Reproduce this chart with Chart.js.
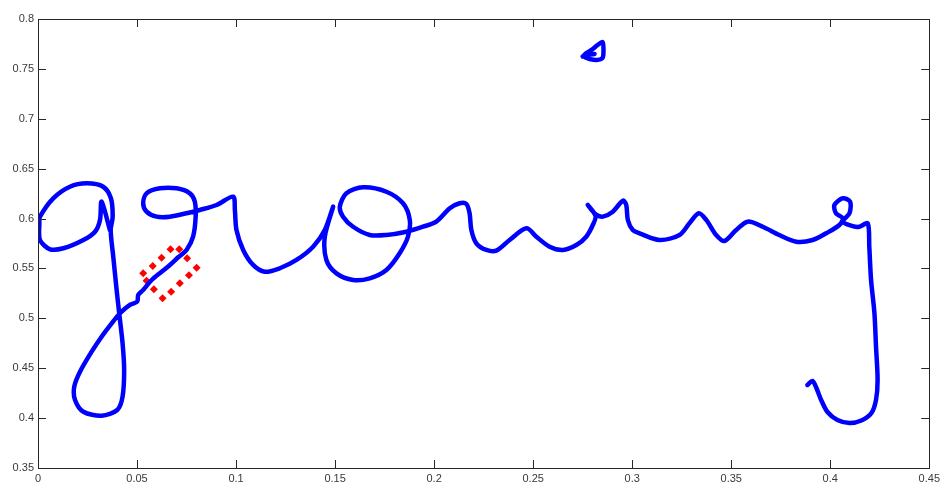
<!DOCTYPE html>
<html>
<head>
<meta charset="utf-8">
<script src="https://cdn.jsdelivr.net/npm/chart.js@4.4.1/dist/chart.umd.min.js"></script>
<style>
html,body{margin:0;padding:0;background:#fff;}
#wrap{width:944px;height:485px;}
</style>
</head>
<body>
<div id="wrap"><canvas id="c" width="944" height="485"></canvas></div>
<script>
// ---- data ----
const xTicks = [0, 0.05, 0.1, 0.15, 0.2, 0.25, 0.3, 0.35, 0.4, 0.45];
const yTicks = [0.35, 0.4, 0.45, 0.5, 0.55, 0.6, 0.65, 0.7, 0.75, 0.8];
const xTickLabels = ["0", "0.05", "0.1", "0.15", "0.2", "0.25", "0.3", "0.35", "0.4", "0.45"];
const yTickLabels = ["0.35", "0.4", "0.45", "0.5", "0.55", "0.6", "0.65", "0.7", "0.75", "0.8"];

// main pen stroke
const strokeX = [0.0363,0.0321,0.0313,0.0288,0.0229,0.0128,0.0061,0.0010,0.0007,0.0010,0.0077,0.0161,0.0246,0.0329,0.0368,0.0377,0.0367,0.0380,0.0397,0.0410,0.0427,0.0435,0.0427,0.0400,0.0321,0.0229,0.0187,0.0183,0.0212,0.0271,0.0321,0.0372,0.0414,0.0464,0.0501,0.0506,0.0531,0.0574,0.0624,0.0666,0.0708,0.0750,0.0783,0.0796,0.0792,0.0767,0.0700,0.0615,0.0548,0.0531,0.0548,0.0599,0.0666,0.0750,0.0817,0.0902,0.0985,0.0994,0.1002,0.1036,0.1086,0.1145,0.1221,0.1305,0.1389,0.1448,0.1490,0.1448,0.1456,0.1507,0.1591,0.1675,0.1759,0.1826,0.1868,0.1877,0.1843,0.1759,0.1641,0.1557,0.1524,0.1540,0.1591,0.1675,0.1759,0.1860,0.1944,0.2011,0.2079,0.2129,0.2163,0.2179,0.2188,0.2213,0.2264,0.2314,0.2381,0.2466,0.2516,0.2583,0.2650,0.2718,0.2768,0.2801,0.2815,0.2776,0.2795,0.2820,0.2852,0.2902,0.2953,0.2970,0.2978,0.3003,0.3037,0.3138,0.3239,0.3289,0.3336,0.3374,0.3424,0.3466,0.3525,0.3583,0.3659,0.3743,0.3828,0.3911,0.3979,0.4046,0.4063,0.4029,0.4021,0.4063,0.4100,0.4097,0.4063,0.4113,0.4147,0.4189,0.4197,0.4206,0.4223,0.4231,0.4239,0.4231,0.4208,0.4157,0.4097,0.4036,0.3986,0.3954,0.3930,0.3910,0.3885];
const strokeY = [0.5885,0.6169,0.5986,0.5868,0.5785,0.5702,0.5692,0.5785,0.5952,0.6019,0.6203,0.6319,0.6353,0.6319,0.6203,0.6019,0.5885,0.5618,0.5284,0.5051,0.4750,0.4482,0.4215,0.4081,0.4024,0.4064,0.4182,0.4315,0.4465,0.4666,0.4816,0.4950,0.5051,0.5134,0.5167,0.5234,0.5284,0.5384,0.5467,0.5535,0.5612,0.5685,0.5818,0.6019,0.6169,0.6253,0.6303,0.6303,0.6253,0.6153,0.6069,0.6019,0.6019,0.6053,0.6086,0.6136,0.6219,0.6086,0.5885,0.5685,0.5535,0.5467,0.5502,0.5585,0.5718,0.5885,0.6119,0.5818,0.5585,0.5451,0.5384,0.5401,0.5484,0.5652,0.5818,0.5986,0.6153,0.6269,0.6313,0.6253,0.6119,0.6019,0.5918,0.5835,0.5835,0.5868,0.5918,0.5969,0.6103,0.6153,0.6146,0.6053,0.5885,0.5752,0.5685,0.5678,0.5785,0.5902,0.5818,0.5718,0.5685,0.5735,0.5818,0.5935,0.6026,0.6136,0.6086,0.6036,0.6019,0.6069,0.6179,0.6136,0.5986,0.5885,0.5852,0.5785,0.5835,0.5952,0.6053,0.5986,0.5835,0.5775,0.5885,0.5969,0.5918,0.5835,0.5768,0.5785,0.5852,0.5935,0.6003,0.6053,0.6136,0.6203,0.6169,0.6053,0.5969,0.5925,0.5918,0.5952,0.5718,0.5384,0.5051,0.4716,0.4382,0.4182,0.4051,0.3976,0.3951,0.3981,0.4061,0.4182,0.4302,0.4372,0.4332];

// dot over the i
const dotX = [0.2750,0.2770,0.2795,0.2825,0.2850,0.2855,0.2850,0.2820,0.2785,0.2760,0.2780,0.2810];
const dotY = [0.7625,0.7660,0.7690,0.7739,0.7769,0.7689,0.7609,0.7589,0.7599,0.7619,0.7640,0.7650];

// red highlighted points
const boxX = [0.0531,0.0548,0.0585,0.0629,0.0672,0.0716,0.0762,0.0801,0.0753,0.0713,0.0669,0.0624,0.0579];
const boxY = [0.5451,0.5377,0.5291,0.5201,0.5267,0.5351,0.5431,0.5508,0.5602,0.5692,0.5692,0.5608,0.5525];

const toPts = (xs, ys) => xs.map((x, i) => ({x: x, y: ys[i]}));

const frameAndTicks = {
  id: 'frameAndTicks',
  afterDraw(chart) {
    const ctx = chart.ctx, a = chart.chartArea;
    const xs = chart.scales.x, ys = chart.scales.y;
    ctx.save();
    ctx.strokeStyle = '#262626';
    ctx.lineWidth = 1;
    ctx.strokeRect(Math.round(a.left) + 0.5, Math.round(a.top) + 0.5, Math.round(a.right - a.left), Math.round(a.bottom - a.top));
    const L = 8;
    ctx.beginPath();
    xTicks.forEach(v => {
      const p = Math.round(xs.getPixelForValue(v)) + 0.5;
      ctx.moveTo(p, a.bottom); ctx.lineTo(p, a.bottom - L);
      ctx.moveTo(p, a.top); ctx.lineTo(p, a.top + L);
    });
    yTicks.forEach(v => {
      const p = Math.round(ys.getPixelForValue(v)) + 0.5;
      ctx.moveTo(a.left, p); ctx.lineTo(a.left + L, p);
      ctx.moveTo(a.right, p); ctx.lineTo(a.right - L, p);
    });
    ctx.stroke();
    ctx.restore();
  }
};

new Chart(document.getElementById('c'), {
  type: 'scatter',
  data: {
    datasets: [
      {
        data: toPts(strokeX, strokeY),
        showLine: true,
        borderColor: '#0000ff',
        borderWidth: 4.5,
        pointRadius: 0,
        tension: 0.3,
        borderCapStyle: 'round',
        borderJoinStyle: 'round',
        fill: false
      },
      {
        data: toPts(dotX, dotY),
        showLine: true,
        borderColor: '#0000ff',
        borderWidth: 4.5,
        pointRadius: 0,
        tension: 0.3,
        borderCapStyle: 'round',
        borderJoinStyle: 'round',
        fill: false
      },
      {
        data: toPts(boxX, boxY),
        showLine: false,
        pointStyle: 'rectRot',
        pointRadius: 4,
        backgroundColor: '#ff0000',
        borderColor: '#ff0000',
        borderWidth: 0
      }
    ]
  },
  options: {
    responsive: false,
    animation: false,
    events: [],
    layout: { padding: { top: 19, right: 14, left: 0, bottom: 0 } },
    plugins: { legend: { display: false }, tooltip: { enabled: false } },
    scales: {
      x: {
        type: 'linear',
        min: 0, max: 0.45,
        afterBuildTicks: s => { s.ticks = xTicks.map(v => ({value: v})); },
        afterFit: s => { s.height = 17; },
        grid: { display: false, drawTicks: false },
        border: { display: false },
        ticks: {
          padding: 4,
          maxRotation: 0,
          autoSkip: false,
          color: '#3a3a3a',
          font: { family: 'Liberation Sans, Arial, sans-serif', size: 11 },
          callback: (v) => { const i = xTicks.findIndex(t => Math.abs(t - v) < 1e-9); return i >= 0 ? xTickLabels[i] : ''; }
        }
      },
      y: {
        type: 'linear',
        min: 0.35, max: 0.8,
        afterBuildTicks: s => { s.ticks = yTicks.map(v => ({value: v})); },
        afterFit: s => { s.width = 38; },
        grid: { display: false, drawTicks: false },
        border: { display: false },
        ticks: {
          padding: 4,
          autoSkip: false,
          color: '#3a3a3a',
          font: { family: 'Liberation Sans, Arial, sans-serif', size: 11 },
          callback: (v) => { const i = yTicks.findIndex(t => Math.abs(t - v) < 1e-9); return i >= 0 ? yTickLabels[i] : ''; }
        }
      }
    }
  },
  plugins: [frameAndTicks]
});
</script>
</body>
</html>
